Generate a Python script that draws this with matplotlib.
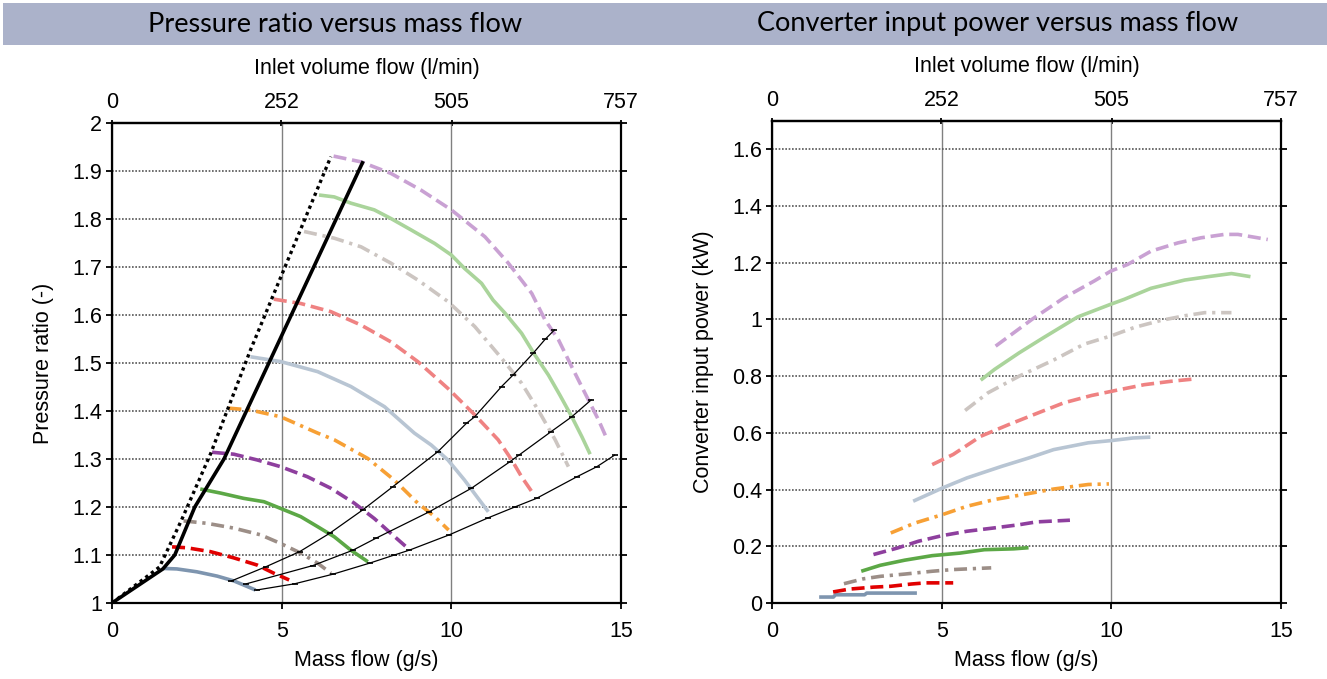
import matplotlib
matplotlib.use("Agg")
import matplotlib.pyplot as plt
from matplotlib.patches import Rectangle

# ---- pressure ratio vs mass flow (g/s), one list pair per speed line
pr_x_1 = [1.52, 1.91, 2.5, 3.1, 3.59, 3.88, 4.23]
pr_y_1 = [1.072, 1.071, 1.065, 1.056, 1.046, 1.0375, 1.027]
pr_x_2 = [1.77, 2.21, 2.9, 3.59, 4.28, 4.77, 5.22]
pr_y_2 = [1.117, 1.115, 1.107, 1.094, 1.079, 1.062, 1.048]
pr_x_3 = [2.11, 2.8, 3.59, 4.38, 4.97, 5.56, 6.06, 6.45]
pr_y_3 = [1.171, 1.166, 1.156, 1.142, 1.124, 1.104, 1.083, 1.062]
pr_x_4 = [2.6, 3.2, 3.88, 4.48, 4.97, 5.56, 6.06, 6.55, 7.04, 7.54]
pr_y_4 = [1.2375, 1.229, 1.218, 1.211, 1.197, 1.18, 1.159, 1.138, 1.11, 1.086]
pr_x_5 = [2.95, 3.59, 4.28, 4.97, 5.76, 6.45, 7.14, 7.73, 8.22, 8.67]
pr_y_5 = [1.314, 1.31, 1.298, 1.284, 1.263, 1.239, 1.208, 1.176, 1.145, 1.117]
pr_x_6 = [3.43, 4.08, 4.97, 6.06, 6.55, 7.54, 8.32, 9.01, 9.51, 9.92]
pr_y_6 = [1.406, 1.402, 1.388, 1.354, 1.34, 1.301, 1.256, 1.208, 1.18, 1.152]
pr_x_7 = [4.08, 4.97, 6.06, 7.04, 8.03, 8.91, 9.41, 9.9, 10.39, 10.79, 11.09]
pr_y_7 = [1.513, 1.503, 1.482, 1.451, 1.409, 1.354, 1.329, 1.298, 1.256, 1.218, 1.19]
pr_x_8 = [4.77, 5.56, 6.45, 7.34, 8.22, 9.01, 9.9, 10.69, 11.38, 11.78, 12.07, 12.4]
pr_y_8 = [1.633, 1.624, 1.607, 1.579, 1.544, 1.503, 1.447, 1.392, 1.34, 1.298, 1.263, 1.229]
pr_x_9 = [5.66, 6.55, 7.34, 8.22, 9.01, 9.9, 10.69, 11.48, 12.07, 12.56, 13.06, 13.45]
pr_y_9 = [1.774, 1.76, 1.742, 1.708, 1.673, 1.628, 1.576, 1.51, 1.458, 1.402, 1.34, 1.284]
pr_x_10 = [6.1, 6.55, 7.04, 7.73, 8.22, 8.82, 9.51, 10.0, 10.39, 10.89, 11.23, 11.58,
           12.07, 12.46, 12.86, 13.2, 13.55, 13.85, 14.09]
pr_y_10 = [1.85, 1.846, 1.833, 1.819, 1.801, 1.777, 1.749, 1.725, 1.697, 1.666, 1.631, 1.604,
           1.562, 1.517, 1.475, 1.433, 1.388, 1.346, 1.31]
pr_x_11 = [6.53, 7.34, 8.22, 9.11, 10.0, 10.99, 11.68, 12.37, 12.76, 13.16, 13.55, 14.04, 14.34, 14.59]
pr_y_11 = [1.931, 1.919, 1.895, 1.86, 1.819, 1.763, 1.708, 1.645, 1.59, 1.548, 1.492, 1.423, 1.381, 1.341]

# surge line (solid) and dotted limit line
surge_x = [0, 1.5, 1.85, 2.44, 3.3, 7.38]
surge_y = [1.0, 1.071, 1.1, 1.2, 1.3, 1.917]
limit_x = [0, 1.4, 2.05, 2.9, 4.08, 6.45]
limit_y = [1.0, 1.075, 1.173, 1.31, 1.527, 1.93]

# thin operating lines with markers
opa_x = [3.52, 4.55, 5.53, 6.41, 7.39, 8.27, 9.6, 10.44, 10.69, 11.48, 11.82, 12.42, 12.76, 13.04]
opa_y = [1.046, 1.076, 1.107, 1.145, 1.194, 1.242, 1.315, 1.374, 1.388, 1.451, 1.475, 1.521, 1.549, 1.569]
opb_x = [3.96, 5.92, 7.1, 7.78, 9.35, 10.59, 11.72, 11.99, 12.94, 13.55, 14.12]
opb_y = [1.04, 1.078, 1.11, 1.135, 1.19, 1.239, 1.294, 1.308, 1.357, 1.388, 1.423]
opc_x = [4.26, 5.38, 6.51, 7.59, 8.32, 8.76, 9.94, 11.07, 11.87, 12.51, 13.7, 14.29, 14.81]
opc_y = [1.027, 1.04, 1.06, 1.083, 1.1, 1.11, 1.142, 1.177, 1.2, 1.218, 1.263, 1.284, 1.308]

# ---- converter input power (kW) vs mass flow (g/s)
pw_x_1 = [1.39, 1.81, 1.87, 2.73, 2.79, 4.27]
pw_y_1 = [0.021, 0.021, 0.029, 0.029, 0.035, 0.035]
pw_x_2 = [1.8, 2.28, 2.99, 3.5, 4.11, 4.52, 5.34]
pw_y_2 = [0.039, 0.049, 0.056, 0.059, 0.067, 0.071, 0.071]
pw_x_3 = [2.12, 2.68, 3.19, 3.91, 4.72, 5.34, 6.46]
pw_y_3 = [0.068, 0.085, 0.094, 0.102, 0.112, 0.118, 0.124]
pw_x_4 = [2.63, 3.19, 3.91, 4.72, 5.54, 6.26, 7.12, 7.56]
pw_y_4 = [0.112, 0.133, 0.151, 0.167, 0.176, 0.188, 0.191, 0.195]
pw_x_5 = [2.99, 3.7, 4.32, 5.03, 5.74, 6.56, 7.28, 7.79, 8.78]
pw_y_5 = [0.171, 0.194, 0.218, 0.238, 0.253, 0.265, 0.276, 0.286, 0.292]
pw_x_6 = [3.5, 4.21, 5.03, 5.74, 6.56, 7.38, 8.3, 9.32, 9.93]
pw_y_6 = [0.247, 0.282, 0.312, 0.341, 0.365, 0.382, 0.402, 0.418, 0.42]
pw_x_7 = [4.16, 5.03, 5.74, 6.77, 7.58, 8.3, 9.32, 10.01, 10.64, 11.15]
pw_y_7 = [0.359, 0.406, 0.441, 0.482, 0.512, 0.541, 0.565, 0.573, 0.582, 0.585]
pw_x_8 = [4.72, 5.34, 6.15, 6.97, 7.79, 8.6, 9.42, 10.18, 10.97, 11.76, 12.43]
pw_y_8 = [0.488, 0.524, 0.588, 0.629, 0.668, 0.706, 0.732, 0.751, 0.77, 0.782, 0.79]
pw_x_9 = [5.69, 6.36, 7.28, 8.3, 9.2, 9.99, 10.68, 11.47, 12.16, 12.75, 13.54]
pw_y_9 = [0.679, 0.741, 0.8, 0.857, 0.913, 0.942, 0.972, 0.997, 1.013, 1.024, 1.024]
pw_x_10 = [6.15, 6.56, 7.28, 7.99, 9.01, 9.99, 10.38, 11.17, 12.16, 12.85, 13.54, 14.1]
pw_y_10 = [0.786, 0.824, 0.882, 0.935, 1.009, 1.054, 1.071, 1.11, 1.139, 1.151, 1.162, 1.151]
pw_x_11 = [6.59, 7.68, 8.6, 9.5, 9.99, 10.48, 11.17, 11.96, 12.64, 13.33, 13.73, 14.61]
pw_y_11 = [0.906, 1.002, 1.076, 1.136, 1.171, 1.194, 1.241, 1.27, 1.288, 1.3, 1.3, 1.282]

vol_ticks = [0, 252, 505, 757]        # inlet volume flow (l/min) at 0..15 g/s
mass_ticks = [0, 5, 10, 15]
pr_ticks = [1.0, 1.1, 1.2, 1.3, 1.4, 1.5, 1.6, 1.7, 1.8, 1.9, 2.0]
pw_ticks = [0, 0.2, 0.4, 0.6, 0.8, 1.0, 1.2, 1.4, 1.6]

pr_lines = [(pr_x_1, pr_y_1), (pr_x_2, pr_y_2), (pr_x_3, pr_y_3), (pr_x_4, pr_y_4),
            (pr_x_5, pr_y_5), (pr_x_6, pr_y_6), (pr_x_7, pr_y_7), (pr_x_8, pr_y_8),
            (pr_x_9, pr_y_9), (pr_x_10, pr_y_10), (pr_x_11, pr_y_11)]
pw_lines = [(pw_x_1, pw_y_1), (pw_x_2, pw_y_2), (pw_x_3, pw_y_3), (pw_x_4, pw_y_4),
            (pw_x_5, pw_y_5), (pw_x_6, pw_y_6), (pw_x_7, pw_y_7), (pw_x_8, pw_y_8),
            (pw_x_9, pw_y_9), (pw_x_10, pw_y_10), (pw_x_11, pw_y_11)]

colors = ["#7E95AF", "#E10000", "#9C8E87", "#5CA846", "#8E3F9E", "#F7A035",
          "#B8C5D3", "#EF8282", "#CCC5C1", "#AAD49B", "#C9A1D3"]
DASH = (0, (3.6, 1.6))
DASHDOT = (0, (3.6, 1.6, 0.9, 1.6))
styles = ["solid", DASH, DASHDOT] * 4

plt.rcParams["font.family"] = ["Liberation Sans", "DejaVu Sans"]
W, H = 1327, 679
fig = plt.figure(figsize=(W / 100, H / 100), dpi=100)

# title band
fig.patches.append(Rectangle((3 / W, 1 - 45 / H), 1 - 3 / W, 42 / H, transform=fig.transFigure,
                             facecolor="#ABB2CA", edgecolor="none", zorder=0))
fig.text(335 / W, 1 - 24 / H, "Pressure ratio versus mass flow", ha="center", va="center",
         fontsize=19.5, family=["Lato", "DejaVu Sans"])
fig.text(998 / W, 1 - 24 / H, "Converter input power versus mass flow", ha="center", va="center",
         fontsize=19.5, family=["Lato", "DejaVu Sans"])

k = vol_ticks[-1] / mass_ticks[-1]
FS = 15.5


def style_axes(ax, yticks, ylabel):
    ax.set_xlim(0, 15)
    ax.set_xticks(mass_ticks)
    ax.set_yticks(yticks)
    ax.yaxis.set_major_formatter(matplotlib.ticker.FormatStrFormatter("%g"))
    for s in ax.spines.values():
        s.set_linewidth(1.6)
    ax.tick_params(axis="both", direction="out", length=4, width=1.3, labelsize=FS,
                   right=True, pad=3)
    ax.tick_params(axis="x", pad=9)
    ax.grid(axis="y", color="#555555", lw=1.2, ls=(0, (1, 1)), zorder=1)
    ax.grid(axis="x", color="#808080", lw=1.0, zorder=1)
    ax.set_xlabel("Mass flow (g/s)", fontsize=FS, labelpad=6)
    ax.set_ylabel(ylabel, fontsize=FS, labelpad=13)
    top = ax.secondary_xaxis("top", functions=(lambda m: m * k, lambda v: v / k))
    top.set_xticks(vol_ticks)
    top.spines["top"].set_linewidth(1.6)
    top.tick_params(direction="inout", length=5, width=1.3, labelsize=FS, pad=5)
    top.set_xlabel("Inlet volume flow (l/min)", fontsize=FS, labelpad=13)


# ---- left: pressure ratio
ax1 = fig.add_axes([112 / W, 1 - 603 / H, 509 / W, 480 / H])
ax1.set_ylim(1, 2)
style_axes(ax1, pr_ticks, "Pressure ratio (-)")
for (x, y), c, ls in zip(pr_lines, colors, styles):
    ax1.plot(x, y, color=c, ls=ls, lw=2.6, zorder=3, solid_capstyle="butt")
for x, y in [(opa_x, opa_y), (opb_x, opb_y), (opc_x, opc_y)]:
    ax1.plot(x, y, color="black", lw=0.9, marker="_", ms=4, mew=1.2, zorder=4)
ax1.plot(surge_x, surge_y, color="black", lw=2.6, zorder=5)
ax1.plot(limit_x, limit_y, color="black", lw=2.4, ls=(0, (1, 1.1)), zorder=5)

# ---- right: converter input power
ax2 = fig.add_axes([772 / W, 1 - 603 / H, 509 / W, 482 / H])
ax2.set_ylim(0, 1.7)
style_axes(ax2, pw_ticks, "Converter input power (kW)")
for (x, y), c, ls in zip(pw_lines, colors, styles):
    ax2.plot(x, y, color=c, ls=ls, lw=2.6, zorder=3, solid_capstyle="butt")

fig.savefig("out.png", dpi=100)
